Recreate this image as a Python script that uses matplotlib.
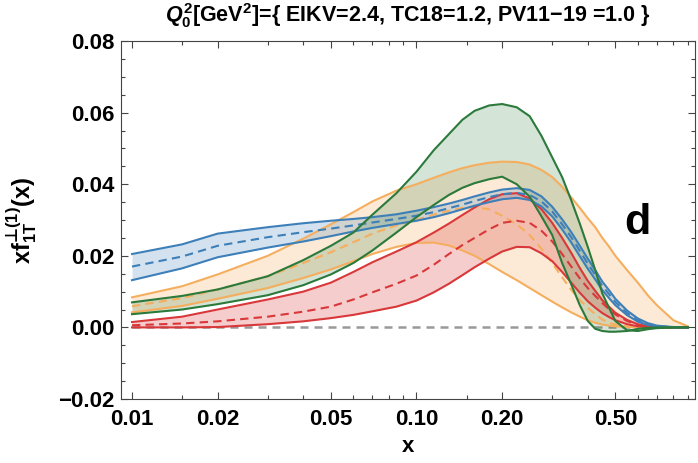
import matplotlib
matplotlib.use('Agg')
import matplotlib.pyplot as plt
from matplotlib.ticker import FixedLocator, NullFormatter

plt.rcParams['font.family'] = ['Liberation Sans', 'DejaVu Sans']
plt.rcParams['font.weight'] = 'bold'
plt.rcParams['mathtext.fontset'] = 'custom'
plt.rcParams['mathtext.rm'] = 'Liberation Sans:bold'
plt.rcParams['mathtext.it'] = 'Liberation Sans:italic:bold'
plt.rcParams['mathtext.bf'] = 'Liberation Sans:bold'
plt.rcParams['mathtext.sf'] = 'DejaVu Sans:bold'

# x grid of the curves
x = [0.01, 0.015, 0.02, 0.03, 0.04, 0.05, 0.06, 0.07, 0.085, 0.1, 0.115, 0.13, 0.145, 0.16, 0.18,
     0.2, 0.225, 0.25, 0.275, 0.3, 0.325, 0.35, 0.375, 0.4, 0.425, 0.45, 0.475, 0.5, 0.55, 0.6,
     0.65, 0.7, 0.8, 0.9]

blue_hi = [0.0205, 0.0232, 0.0262, 0.0280, 0.0291, 0.0298, 0.0303, 0.0308, 0.0316, 0.0326, 0.0336,
           0.0346, 0.0356, 0.0366, 0.0377, 0.0385, 0.0389, 0.0384, 0.0366, 0.0337, 0.0302, 0.0266,
           0.0228, 0.0192, 0.0160, 0.0128, 0.0104, 0.0080, 0.0047, 0.0025, 0.0012, 0.0005, 0.0001, 0.0]
blue_mid = [0.0170, 0.0198, 0.0228, 0.0252, 0.0266, 0.0276, 0.0285, 0.0293, 0.0303, 0.0312, 0.0322,
            0.0333, 0.0343, 0.0353, 0.0364, 0.0372, 0.0376, 0.0370, 0.0352, 0.0324, 0.0288, 0.0252,
            0.0214, 0.0178, 0.0147, 0.0116, 0.0093, 0.0071, 0.0040, 0.0020, 0.0009, 0.0004, 0.0, 0.0]
blue_lo = [0.0132, 0.0165, 0.0196, 0.0223, 0.0240, 0.0255, 0.0268, 0.0278, 0.0289, 0.0298, 0.0308,
           0.0319, 0.0330, 0.0340, 0.0350, 0.0358, 0.0362, 0.0356, 0.0338, 0.0310, 0.0274, 0.0237,
           0.0199, 0.0164, 0.0134, 0.0104, 0.0082, 0.0062, 0.0034, 0.0016, 0.0007, 0.0003, 0.0, 0.0]

orange_hi = [0.0084, 0.0115, 0.0148, 0.0200, 0.0248, 0.0288, 0.0322, 0.0352, 0.0382, 0.0400, 0.0418,
             0.0433, 0.0445, 0.0453, 0.0460, 0.0463, 0.0462, 0.0455, 0.0440, 0.0420, 0.0393, 0.0363,
             0.0334, 0.0305, 0.0280, 0.0250, 0.0226, 0.0200, 0.0160, 0.0125, 0.0090, 0.0062, 0.0020, 0.0003]
orange_mid = [0.0059, 0.0082, 0.0106, 0.0143, 0.0180, 0.0210, 0.0238, 0.0262, 0.0285, 0.0300, 0.0315,
              0.0326, 0.0334, 0.0336, 0.0330, 0.0312, 0.0288, 0.0258, 0.0220, 0.0180, 0.0140, 0.0105,
              0.0077, 0.0055, 0.0037, 0.0022, 0.0013, 0.0008, 0.0003, 0.0001, 0.0, 0.0, 0.0, 0.0]
orange_lo = [0.0042, 0.0060, 0.0080, 0.0110, 0.0138, 0.0162, 0.0185, 0.0205, 0.0225, 0.0236, 0.0237,
             0.0229, 0.0215, 0.0200, 0.0177, 0.0155, 0.0132, 0.0110, 0.0090, 0.0072, 0.0056, 0.0042,
             0.0030, 0.0020, 0.0013, 0.0008, 0.0005, 0.0003, 0.0001, 0.0, 0.0, 0.0, 0.0, 0.0]

red_hi = [0.0015, 0.0030, 0.0050, 0.0078, 0.0100, 0.0125, 0.0155, 0.0182, 0.0212, 0.0238, 0.0265,
          0.0290, 0.0314, 0.0335, 0.0358, 0.0372, 0.0375, 0.0360, 0.0330, 0.0292, 0.0250, 0.0208,
          0.0166, 0.0130, 0.0102, 0.0076, 0.0058, 0.0041, 0.0021, 0.0009, 0.0003, 0.0001, 0.0, 0.0]
red_mid = [0.0006, 0.0011, 0.0017, 0.0030, 0.0044, 0.0058, 0.0078, 0.0098, 0.0122, 0.0145, 0.0175,
           0.0205, 0.0230, 0.0250, 0.0274, 0.0292, 0.0298, 0.0292, 0.0270, 0.0240, 0.0205, 0.0170,
           0.0137, 0.0110, 0.0088, 0.0068, 0.0051, 0.0036, 0.0018, 0.0007, 0.0003, 0.0001, 0.0, 0.0]
red_lo = [0.0, 0.0, 0.0001, 0.0009, 0.0017, 0.0026, 0.0035, 0.0045, 0.0058, 0.0075, 0.0098,
          0.0122, 0.0146, 0.0168, 0.0192, 0.0212, 0.0225, 0.0224, 0.0207, 0.0185, 0.0155, 0.0125,
          0.0097, 0.0073, 0.0055, 0.0040, 0.0029, 0.0020, 0.0009, 0.0003, 0.0001, 0.0, 0.0, 0.0]

green_hi = [0.0070, 0.0088, 0.0106, 0.0143, 0.0188, 0.0228, 0.0265, 0.0315, 0.0375, 0.0435, 0.0495,
            0.0540, 0.0580, 0.0605, 0.0620, 0.0624, 0.0615, 0.0590, 0.0535, 0.0475, 0.0420, 0.0355,
            0.0290, 0.0225, 0.0160, 0.0095, 0.0055, 0.0018, -0.0008, -0.0010, -0.0005, -0.0002, 0.0, 0.0]
green_lo = [0.0037, 0.0050, 0.0065, 0.0090, 0.0118, 0.0148, 0.0180, 0.0215, 0.0265, 0.0308, 0.0342,
            0.0370, 0.0390, 0.0403, 0.0414, 0.0421, 0.0400, 0.0365, 0.0310, 0.0258, 0.0180, 0.0120,
            0.0062, 0.0018, -0.0004, -0.0010, -0.0012, -0.0012, -0.0010, -0.0004, -0.0001, 0.0, 0.0, 0.0]

xmajor = [0.01, 0.02, 0.05, 0.1, 0.2, 0.5]
xmajor_labels = ['0.01', '0.02', '0.05', '0.10', '0.20', '0.50']
xminor = [0.015, 0.03, 0.04, 0.06, 0.07, 0.08, 0.09, 0.15, 0.3, 0.4, 0.6, 0.7, 0.8, 0.9]
ymajor = [-0.02, 0.0, 0.02, 0.04, 0.06, 0.08]
ymajor_labels = ['\u22120.02', '0.00', '0.02', '0.04', '0.06', '0.08']

c_blue = '#3D7FB9'
c_orange = '#F5AE5E'
c_red = '#D9383A'
c_green = '#2B7A3B'

fig = plt.figure(figsize=(6.98, 4.63), dpi=100)
ax = fig.add_axes([0.1734, 0.1382, 0.8216, 0.7732])

lw = 1.5
dash = (4, 2.5)

# zero line
ax.plot([x[0], x[-1]], [0, 0], color='#999999', lw=1.8, dashes=(3.2, 2.4), zorder=1)

# orange band
ax.fill_between(x, orange_lo, orange_hi, color=c_orange, alpha=0.25, lw=0, zorder=2)
ax.plot(x, orange_hi, color=c_orange, lw=lw, zorder=3)
ax.plot(x, orange_lo, color=c_orange, lw=lw, zorder=3)
ax.plot(x, orange_mid, color=c_orange, lw=lw, dashes=dash, zorder=3)

# red band
ax.fill_between(x, red_lo, red_hi, color=c_red, alpha=0.25, lw=0, zorder=2)
ax.plot(x, red_hi, color=c_red, lw=lw, zorder=3)
ax.plot(x, red_lo, color=c_red, lw=lw, zorder=3)
ax.plot(x, red_mid, color=c_red, lw=lw, dashes=dash, zorder=3)

# blue band
ax.fill_between(x, blue_lo, blue_hi, color=c_blue, alpha=0.22, lw=0, zorder=2)
ax.plot(x, blue_hi, color=c_blue, lw=lw, zorder=4)
ax.plot(x, blue_lo, color=c_blue, lw=lw, zorder=4)
ax.plot(x, blue_mid, color=c_blue, lw=lw, dashes=dash, zorder=4)

# green band
ax.fill_between(x, green_lo, green_hi, color=c_green, alpha=0.2, lw=0, zorder=2)
ax.plot(x, green_hi, color=c_green, lw=lw, zorder=5)
ax.plot(x, green_lo, color=c_green, lw=lw, zorder=5)

ax.set_xscale('log')
ax.set_xlim(0.00915, 0.949)
ax.set_ylim(-0.02, 0.08)

ax.xaxis.set_major_locator(FixedLocator(xmajor))
ax.xaxis.set_minor_locator(FixedLocator(xminor))
ax.xaxis.set_minor_formatter(NullFormatter())
ax.set_xticklabels(xmajor_labels)
ax.set_yticks(ymajor)
ax.set_yticklabels(ymajor_labels)
ax.yaxis.set_minor_locator(FixedLocator([v / 1000 for v in range(-20, 81, 5)]))

ax.tick_params(which='both', direction='in', top=True, right=True, width=0.8, color='#444444')
ax.tick_params(which='major', length=5, labelsize=16, pad=5)
ax.tick_params(which='minor', length=3)
ax.tick_params(axis='x', which='major', pad=7)
for lab in ax.get_xticklabels() + ax.get_yticklabels():
    lab.set_fontweight('bold')
for s in ax.spines.values():
    s.set_color('#444444')
    s.set_linewidth(0.8)

ax.text(0.6, 0.0292, 'd', fontsize=31, fontweight='bold', ha='center', va='center')

fig.text(0.584, 1 - 16 / 463, r'$Q_0^2$[GeV$^2$]={ EIKV=2.4, TC18=1.2, PV11$-$19 =1.0 }',
         ha='center', va='center', fontsize=15.5, fontweight='bold')
fig.text(0.584, 1 - 447 / 463, 'x', ha='center', va='center', fontsize=16, fontweight='bold')
fig.text(22 / 698, 1 - 221 / 463, '$\\mathrm{xf}_{\\mathrm{1T}}^{\\mathsf{\u22a5}\\mathrm{(1)}}\\mathrm{(x)}$',
         rotation=90, ha='center', va='center', fontsize=17)

fig.savefig('out.png', dpi=100)
